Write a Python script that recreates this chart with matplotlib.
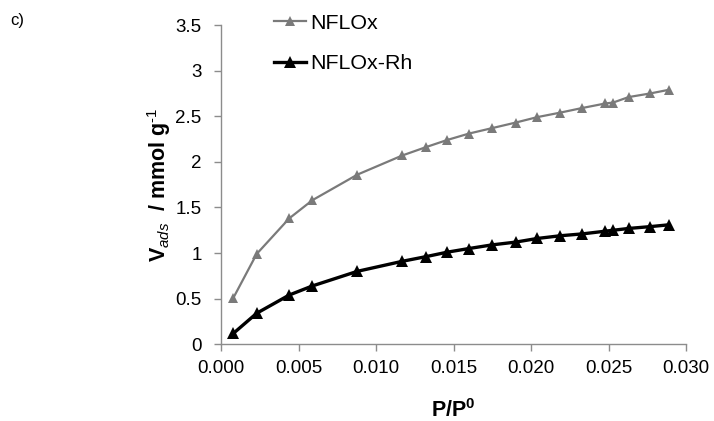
import numpy as np
import matplotlib
matplotlib.use("Agg")
import matplotlib.pyplot as plt

plt.rcParams['font.family'] = ['Liberation Sans', 'DejaVu Sans']
plt.rcParams['mathtext.fontset'] = 'custom'
plt.rcParams['mathtext.rm'] = 'Liberation Sans'
plt.rcParams['mathtext.it'] = 'Liberation Sans:italic'
plt.rcParams['mathtext.bf'] = 'Liberation Sans:bold'

# relative pressure points and adsorbed amounts (mmol/g)
p_rel = [0.0008, 0.0023, 0.0044, 0.0059, 0.0088, 0.0117, 0.0132, 0.0146, 0.0160,
         0.0175, 0.0190, 0.0204, 0.0219, 0.0233, 0.0248, 0.0253, 0.0263, 0.0277, 0.0289]
v_nflox = [0.51, 0.99, 1.38, 1.58, 1.86, 2.07, 2.16, 2.24, 2.31,
           2.37, 2.43, 2.49, 2.54, 2.59, 2.64, 2.65, 2.71, 2.75, 2.79]
v_nflox_rh = [0.12, 0.34, 0.54, 0.64, 0.80, 0.91, 0.96, 1.01, 1.05,
              1.09, 1.12, 1.16, 1.19, 1.21, 1.24, 1.25, 1.27, 1.29, 1.31]

x_ticks = [0.000, 0.005, 0.010, 0.015, 0.020, 0.025, 0.030]
y_ticks = [0, 0.5, 1, 1.5, 2, 2.5, 3, 3.5]

fig = plt.figure(figsize=(7.14, 4.21), dpi=100)
ax = fig.add_axes([221/714, 1 - 344.3/421, 465/714, 319.3/421])

ax.plot(p_rel, v_nflox, color='#7a7a7a', lw=1.6, marker='^', ms=7.5,
        markeredgewidth=0, label='NFLOx')
ax.plot(p_rel, v_nflox_rh, color='black', lw=2.4, marker='^', ms=8.5,
        markeredgewidth=0, label='NFLOx-Rh')

ax.set_xlim(0, 0.030)
ax.set_ylim(0, 3.5)
ax.set_xticks(x_ticks)
ax.set_xticklabels([f'{t:.3f}' for t in x_ticks])
ax.set_yticks(y_ticks)
ax.set_yticklabels([f'{t:g}' for t in y_ticks])

for s in ['top', 'right']:
    ax.spines[s].set_visible(False)
for s in ['left', 'bottom']:
    ax.spines[s].set_color('#8c8c8c')
    ax.spines[s].set_linewidth(1.0)
ax.tick_params(direction='out', length=5, width=1.0, color='#8c8c8c',
               labelsize=13.5, pad=6)
ax.tick_params(axis='y', pad=9)

ax.set_xlabel(r'P/P$^{\mathbf{0}}$', fontsize=15.5, fontweight='bold', labelpad=16)
ax.set_ylabel(r'$\mathbf{V}_{\mathit{ads}}$  / mmol g$^{\text{-1}}$',
              fontsize=15.5, fontweight='bold', labelpad=2)

ax.legend(loc='upper left', bbox_to_anchor=(0.114, 1.035), frameon=False,
          fontsize=15.4, handlelength=1.5, handletextpad=0.2, labelspacing=1.0,
          borderpad=0, borderaxespad=0)

fig.text(10/714, 1 - 21/421, 'c)', fontsize=12, va='center', ha='left')

fig.savefig('out.png', dpi=100)
